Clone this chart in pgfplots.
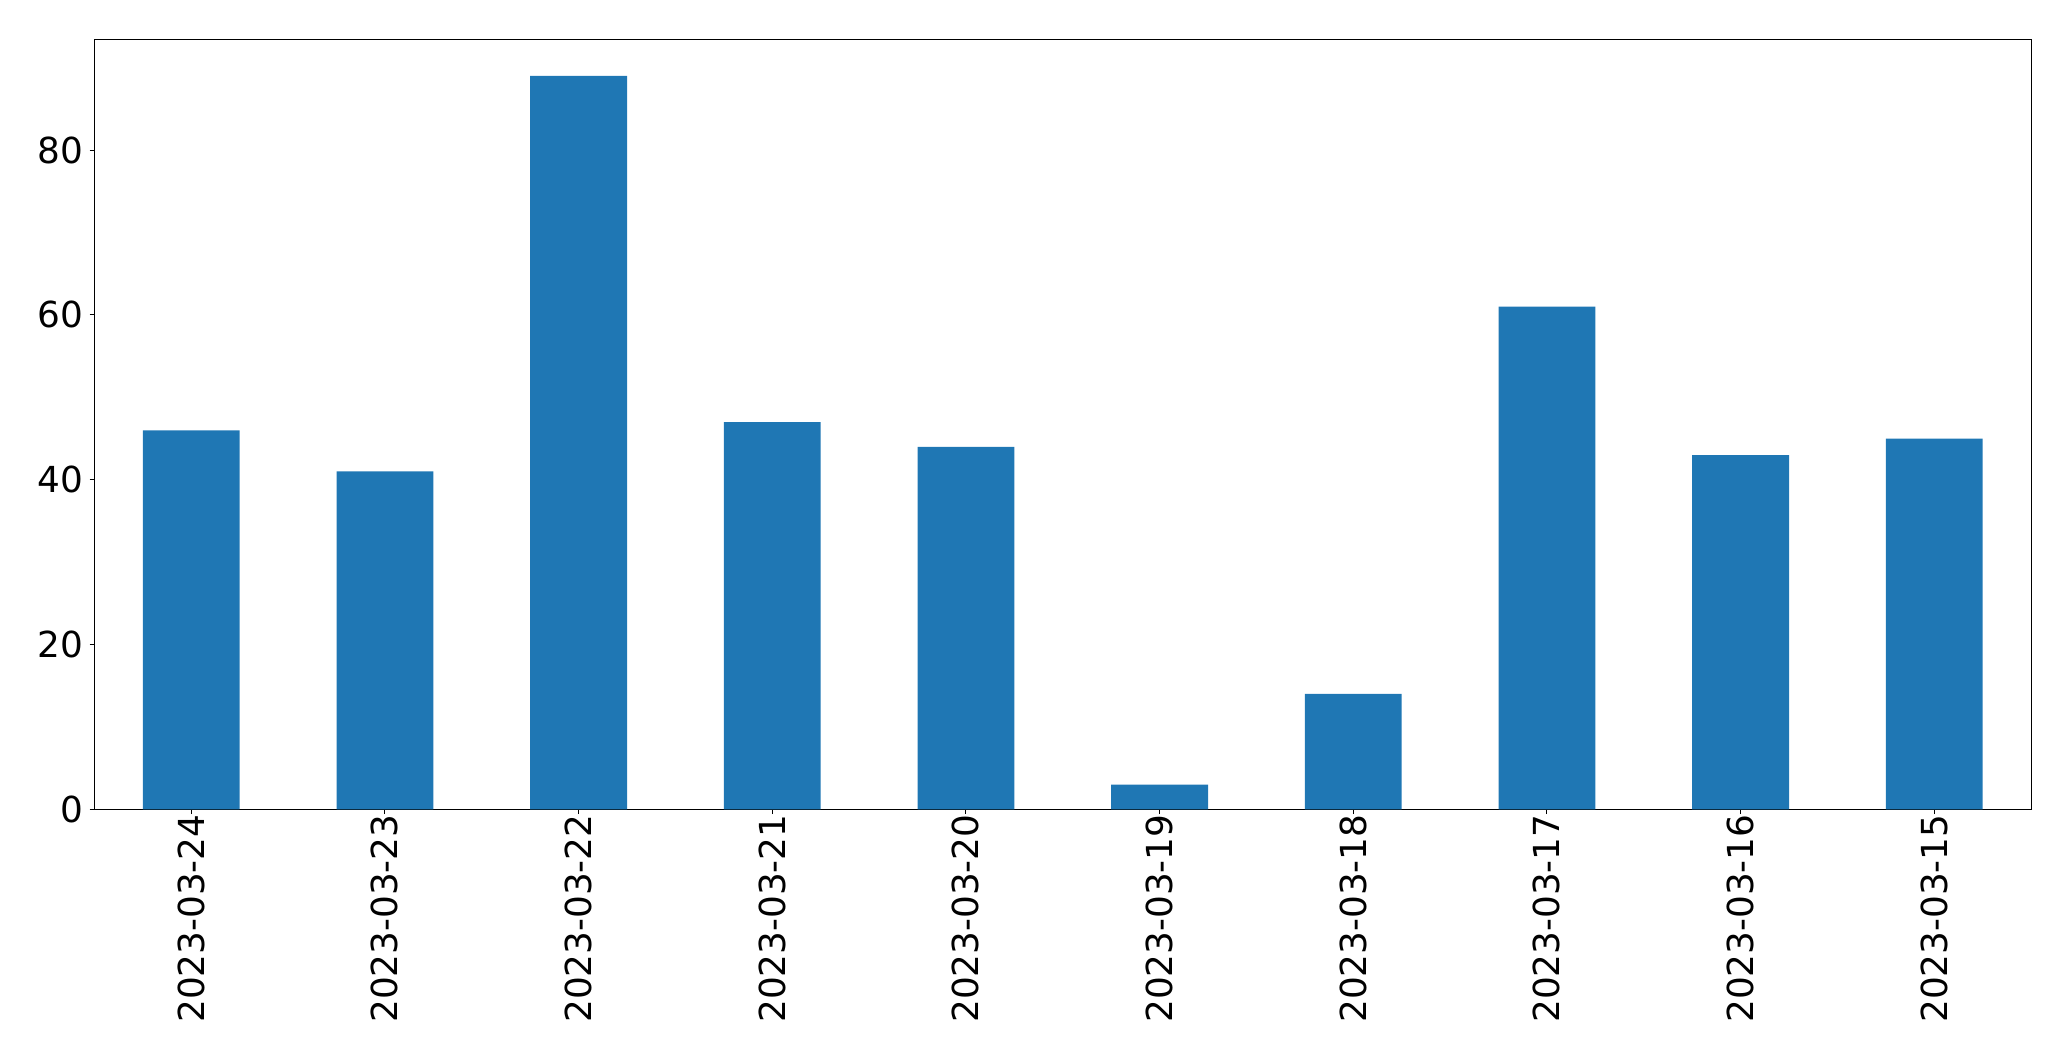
\documentclass[border=0pt]{standalone}
\usepackage{pgfplots}
\pgfplotsset{compat=1.18}
\usepackage{fontspec}
\setmainfont{DejaVu Sans}
\definecolor{mplblue}{HTML}{1F77B4}
\begin{document}
\begin{tikzpicture}
\useasboundingbox (-68.0pt,-181.2pt) rectangle (1423.1pt,582.7pt);
\begin{axis}[
  at={(0,0)}, anchor=south west,
  scale only axis,
  width=1394.3pt, height=554.4pt,
  xmin=-0.5, xmax=9.5, ymin=0, ymax=93.45,
  ybar, bar width=0.5,
  xtick={0,...,9},
  xticklabels={2023-03-24,2023-03-23,2023-03-22,2023-03-21,2023-03-20,2023-03-19,2023-03-18,2023-03-17,2023-03-16,2023-03-15},
  ytick={0,20,40,60,80},
  tick align=outside,
  major tick length=3.5pt,
  tick style={black, line width=0.8pt},
  axis line style={black, line width=0.8pt},
  xtick pos=bottom, ytick pos=left,
  /pgf/number format/assume math mode=true,
  ticklabel style={font=\fontsize{25.8}{31}\selectfont},
  xticklabel style={rotate=90, anchor=east, inner sep=0pt},
  yticklabel style={inner sep=0pt, xshift=-4.4pt},
]
\addplot[fill=mplblue, draw=none] coordinates {
(0,46) (1,41) (2,89) (3,47) (4,44) (5,3) (6,14) (7,61) (8,43) (9,45)
};
\end{axis}
\end{tikzpicture}
\end{document}
